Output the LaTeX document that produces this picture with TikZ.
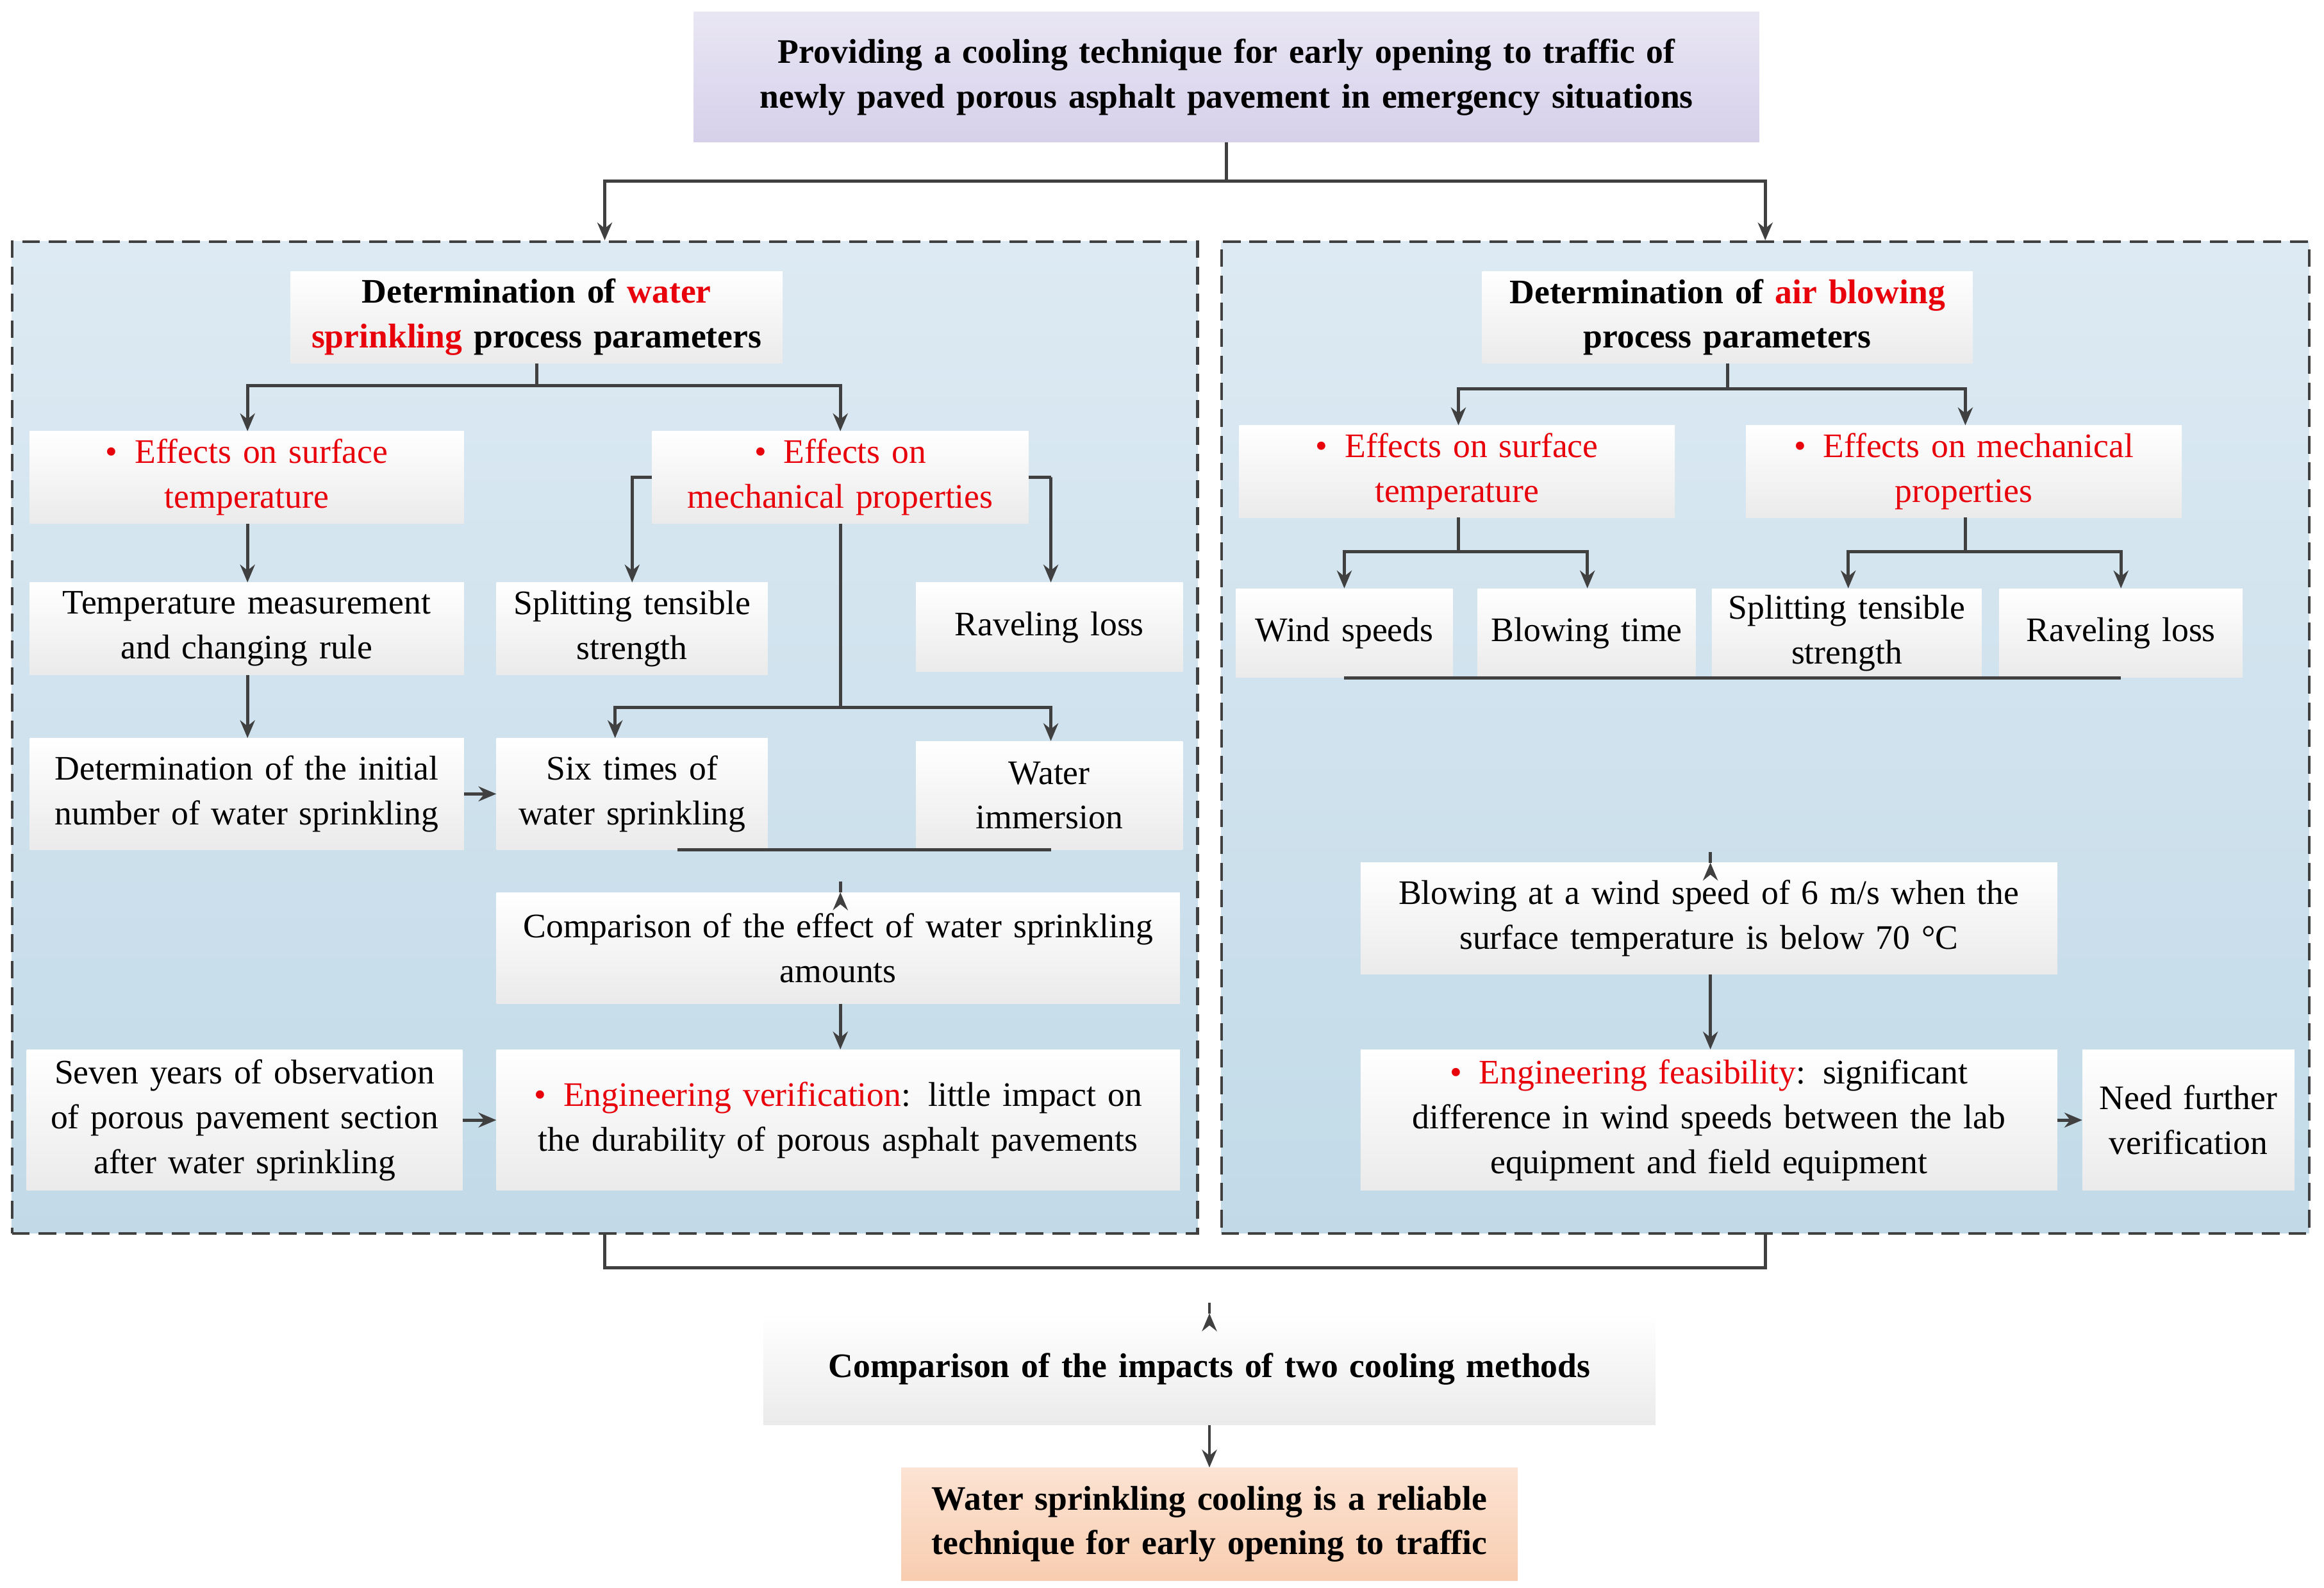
\documentclass[tikz,border=0pt]{standalone}
\usepackage{fontspec}
\setmainfont{Liberation Serif}
\usetikzlibrary{arrows.meta,calc}
\definecolor{rd}{HTML}{E8000B}
\definecolor{lc}{HTML}{404040}
\definecolor{pt}{HTML}{DDEAF3}
\definecolor{pb}{HTML}{C2DAE8}
\definecolor{vt}{HTML}{E9E6F4}
\definecolor{vb}{HTML}{D6D0EA}
\definecolor{ot}{HTML}{FCE3D3}
\definecolor{ob}{HTML}{F8CDB0}
\newcommand\rt[1]{\textcolor{rd}{#1}}
\newcommand\bul{\textcolor{rd}{\textbullet}\enspace}
\tikzset{
 box/.style={draw=none,top color=white,bottom color=gray!16,inner sep=0pt,align=center,
   font=\fontsize{33}{43}\selectfont},
 panel/.style={draw=lc,dashed,dash pattern=on 0.6cm off 0.3cm,line width=2.5pt,top color=pt,bottom color=pb,inner sep=0pt},
 arr/.style={draw=lc,line width=3pt,-{Stealth[length=0.6cm,width=0.5cm]}},
 lin/.style={draw=lc,line width=3pt},
}
\newcommand\bx[7]{\node[box,#6,minimum width={(#4-#2)*0.05cm},minimum height={(#5-#3)*0.05cm},text width={(#4-#2-8)*0.05cm}] (#1) at ({(#2+#4)/2},{(#3+#5)/2}) {#7};}
\begin{document}
\begin{tikzpicture}[x=0.05cm,y=-0.05cm]
\useasboundingbox (0,0) rectangle (1568,1071);
\node[panel,minimum width=40cm,minimum height=33.45cm] (Lp) at (408,497.5) {};
\node[panel,minimum width=36.7cm,minimum height=33.45cm] (Rp) at (1191,497.5) {};
\bx{top}{468}{8}{1187}{96}{top color=vt,bottom color=vb,font=\fontsize{33}{43}\selectfont\bfseries}{Providing a cooling technique for early opening to traffic of\\newly paved porous asphalt pavement in emergency situations}
% left
\bx{Lh}{196}{183}{528}{245}{font=\fontsize{33}{43}\selectfont\bfseries}{Determination of \rt{water}\\\rt{sprinkling} process parameters}
\bx{L1}{20}{291}{313}{353}{}{\rt{\bul Effects on surface\\temperature}}
\bx{L2}{440}{291}{694}{353}{}{\rt{\bul Effects on\\mechanical properties}}
\bx{L3}{20}{393}{313}{455}{}{Temperature measurement\\and changing rule}
\bx{L4}{335}{393}{518}{455}{}{Splitting tensible\\strength}
\bx{L5}{618}{393}{798}{453}{}{Raveling loss}
\bx{L6}{20}{498}{313}{573}{}{Determination of the initial\\number of water sprinkling}
\bx{L7}{335}{498}{518}{573}{}{Six times of\\water sprinkling}
\bx{L8}{618}{500}{798}{573}{}{Water\\immersion}
\bx{L9}{335}{602}{796}{677}{}{Comparison of the effect of water sprinkling\\amounts}
\bx{L10}{18}{708}{312}{803}{}{Seven years of observation\\of porous pavement section\\after water sprinkling}
\bx{L11}{335}{708}{796}{803}{}{\bul\rt{Engineering verification}: little impact on\\the durability of porous asphalt pavements}
% right
\bx{Rh}{1000}{183}{1331}{245}{font=\fontsize{33}{43}\selectfont\bfseries}{Determination of \rt{air blowing}\\process parameters}
\bx{R1}{836}{287}{1130}{349}{}{\rt{\bul Effects on surface\\temperature}}
\bx{R2}{1178}{287}{1472}{349}{}{\rt{\bul Effects on mechanical\\properties}}
\bx{R3}{834}{397}{980}{457}{}{Wind speeds}
\bx{R4}{997}{397}{1144}{457}{}{Blowing time}
\bx{R5}{1155}{397}{1337}{457}{}{Splitting tensible\\strength}
\bx{R6}{1349}{397}{1513}{457}{}{Raveling loss}
\bx{R7}{918}{582}{1388}{657}{}{Blowing at a wind speed of 6 m/s when the\\surface temperature is below 70 °C}
\bx{R8}{918}{708}{1388}{803}{}{\bul\rt{Engineering feasibility}:\enspace significant\\difference in wind speeds between the lab\\equipment and field equipment}
\bx{R9}{1405}{708}{1548}{803}{}{Need further\\verification}
% bottom
\bx{B1}{515}{886}{1117}{961}{font=\fontsize{33}{43}\selectfont\bfseries}{Comparison of the impacts of two cooling methods}
\bx{B2}{608}{990}{1024}{1066}{top color=ot,bottom color=ob,font=\fontsize{33}{43}\selectfont\bfseries}{Water sprinkling cooling is a reliable\\technique for early opening to traffic}
% connectors
\draw[arr] (top.south) -- ++(0,26) -| (Lp.north);
\draw[arr] (top.south) -- ++(0,26) -| (Rp.north);
\draw[arr] (Lh.south) -- ++(0,15) -| (L1.north-|167,0);
\draw[arr] (Lh.south) -- ++(0,15) -| (L2.north);
\draw[arr] (L1.south-|167,0) -- (L3.north-|167,0);
\draw[arr] (L3.south-|167,0) -- (L6.north-|167,0);
\draw[arr] (L2.west) -- ++(-13,0) -| (L4.north);
\draw[arr] (L2.east) -- ++(15,0) -| (L5.north-|709,0);
\draw[lin] (L2.south) -- ++(0,124) coordinate (c2);
\draw[arr] (c2) -| (L7.north-|415,0);
\draw[arr] (c2) -| (L8.north-|709,0);
\draw[arr] (L6.east) -- (L7.west);
\draw[lin] (L7.south-|457,0) |- (L8.south-|709,587) -- (L8.south-|709,0);
\draw[arr] (L9.north-|567,587) -- (L9.north-|567,0);
\draw[arr] (L9.south-|567,0) -- (L11.north-|567,0);
\draw[arr] (L10.east) -- (L11.west);
\draw[arr] (Rh.south) -- ++(0,17) -| (R1.north-|984,0);
\draw[arr] (Rh.south) -- ++(0,17) -| (R2.north-|1326,0);
\draw[arr] (R1.south-|984,0) -- ++(0,23) -| (R3.north-|907,0);
\draw[arr] (R1.south-|984,0) -- ++(0,23) -| (R4.north-|1071,0);
\draw[arr] (R2.south-|1326,0) -- ++(0,23) -| (R5.north-|1247,0);
\draw[arr] (R2.south-|1326,0) -- ++(0,23) -| (R6.north-|1431,0);
\draw[lin] (R3.south-|907,0) |- (R6.south-|1431,526) -- (R6.south-|1431,0);
\draw[lin] (R4.south-|1071,0) -- (R4.south-|1071,526);
\draw[lin] (R5.south-|1247,0) -- (R5.south-|1247,526);
\draw[arr] (R7.north-|1154,526) -- (R7.north-|1154,0);
\draw[arr] (R7.south-|1154,0) -- (R8.north-|1154,0);
\draw[arr] (R8.east) -- (R9.west);
\draw[lin] (Lp.south) |- (Rp.south|-0,855) -- (Rp.south);
\draw[arr] (B1.north-|816,855) -- (B1.north-|816,0);
\draw[arr] (B1.south-|816,0) -- (B2.north-|816,0);
\end{tikzpicture}
\end{document}
